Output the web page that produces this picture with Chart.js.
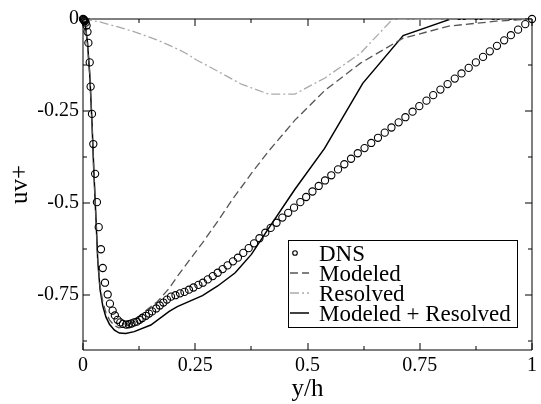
<!DOCTYPE html>
<html>
<head>
<meta charset="utf-8">
<script src="https://cdn.jsdelivr.net/npm/chart.js@4.4.1/dist/chart.umd.min.js"></script>
<style>
  html, body { margin: 0; padding: 0; background: #fff; }
  #wrap { width: 541px; height: 404px; }
</style>
</head>
<body>
<div id="wrap"><canvas id="chart" width="541" height="404"></canvas></div>
<script>
// DNS reference profile (circles)
const dnsX = [0.000, 0.001, 0.002, 0.003, 0.004, 0.006, 0.008, 0.010, 0.012, 0.015,
  0.017, 0.020, 0.023, 0.027, 0.031, 0.035, 0.040, 0.044, 0.049, 0.055,
  0.060, 0.066, 0.071, 0.077, 0.083, 0.089, 0.096, 0.102, 0.108, 0.114,
  0.120, 0.126, 0.132, 0.140, 0.147, 0.154, 0.163, 0.171, 0.179, 0.187,
  0.196, 0.206, 0.216, 0.226, 0.236, 0.246, 0.257, 0.267, 0.278, 0.289,
  0.300, 0.311, 0.322, 0.334, 0.345, 0.357, 0.369, 0.381, 0.393, 0.406,
  0.418, 0.431, 0.444, 0.457, 0.470, 0.484, 0.497, 0.511, 0.525, 0.539,
  0.553, 0.568, 0.582, 0.597, 0.612, 0.627, 0.642, 0.657, 0.672, 0.687,
  0.703, 0.718, 0.734, 0.749, 0.765, 0.780, 0.796, 0.812, 0.828, 0.843,
  0.859, 0.875, 0.891, 0.906, 0.922, 0.938, 0.953, 0.969, 0.985, 1.000]
const dnsUV = [0.000, -0.001, -0.002, -0.004, -0.006, -0.010, -0.018, -0.035, -0.065, -0.118,
  -0.184, -0.258, -0.340, -0.421, -0.498, -0.566, -0.626, -0.677, -0.717, -0.749,
  -0.774, -0.793, -0.806, -0.818, -0.825, -0.829, -0.831, -0.830, -0.828, -0.825,
  -0.823, -0.818, -0.813, -0.807, -0.801, -0.795, -0.787, -0.779, -0.771, -0.763,
  -0.755, -0.751, -0.746, -0.742, -0.736, -0.730, -0.723, -0.717, -0.708, -0.699,
  -0.690, -0.680, -0.670, -0.659, -0.649, -0.636, -0.623, -0.610, -0.596, -0.581,
  -0.568, -0.554, -0.540, -0.527, -0.513, -0.498, -0.484, -0.469, -0.454, -0.439,
  -0.425, -0.409, -0.395, -0.380, -0.365, -0.351, -0.337, -0.323, -0.309, -0.295,
  -0.281, -0.267, -0.252, -0.237, -0.222, -0.207, -0.192, -0.177, -0.162, -0.148,
  -0.133, -0.118, -0.103, -0.088, -0.073, -0.058, -0.044, -0.029, -0.014, 0.000]

// LES: modeled (SGS) part
const modeledX = [0, 0.005, 0.010, 0.015, 0.020, 0.024, 0.029, 0.033, 0.038, 0.044, 0.051,
  0.059, 0.070, 0.080, 0.095, 0.114, 0.133, 0.166, 0.192, 0.210, 0.243, 0.266, 0.300,
  0.332, 0.375, 0.413, 0.472, 0.538, 0.618, 0.713, 0.817, 0.920, 1.000]
const modeledUV = [0, -0.015, -0.065, -0.150, -0.280, -0.410, -0.545, -0.655, -0.725, -0.768, -0.798,
  -0.818, -0.834, -0.840, -0.836, -0.822, -0.800, -0.768, -0.732, -0.700, -0.646, -0.609, -0.550,
  -0.492, -0.420, -0.360, -0.275, -0.195, -0.120, -0.052, -0.019, -0.006, 0]

// LES: resolved part
const resolvedX = [0, 0.037, 0.071, 0.110, 0.163, 0.199, 0.229, 0.251, 0.300, 0.354,
  0.413, 0.472, 0.538, 0.618, 0.690, 0.817, 0.920, 1.000]
const resolvedUV = [0, -0.008, -0.019, -0.033, -0.056, -0.075, -0.093, -0.110, -0.142, -0.178,
  -0.204, -0.204, -0.161, -0.093, 0, 0, 0, 0]

// LES: total
const totalX = [0, 0.005, 0.010, 0.015, 0.020, 0.024, 0.029, 0.033, 0.038, 0.044, 0.051,
  0.059, 0.070, 0.081, 0.095, 0.114, 0.151, 0.192, 0.210, 0.266, 0.300, 0.339, 0.375,
  0.413, 0.472, 0.538, 0.623, 0.713, 0.817, 0.920, 1.000]
const totalUV = [0, -0.015, -0.065, -0.150, -0.280, -0.410, -0.546, -0.660, -0.735, -0.780, -0.810,
  -0.830, -0.846, -0.854, -0.855, -0.850, -0.832, -0.795, -0.782, -0.752, -0.726, -0.690, -0.640,
  -0.570, -0.463, -0.352, -0.175, -0.045, -0.001, 0, 0]

const xTicks = [0, 0.25, 0.5, 0.75, 1]
const xTickLabels = ['0', '0.25', '0.5', '0.75', '1']
const xMinorTicks = [0.125, 0.375, 0.625, 0.875]
const yTicks = [0, -0.25, -0.5, -0.75]
const yTickLabels = ['0', '-0.25', '-0.5', '-0.75']
const yMinorTicks = [-0.125, -0.375, -0.625, -0.875]

const seriesNames = ['DNS', 'Modeled', 'Resolved', 'Modeled + Resolved']

const pts = (xs, ys) => xs.map((x, i) => ({ x: x, y: ys[i] }))

const SERIF = "'Liberation Serif', 'Times New Roman', serif"
Chart.defaults.font.family = SERIF
Chart.defaults.color = '#000'

// frame and inward ticks on all four sides
const frameTicks = {
  id: 'frameTicks',
  beforeDatasetsDraw(chart) {
    const { ctx, chartArea: a, scales: { x, y } } = chart
    ctx.save()
    ctx.strokeStyle = '#000'
    ctx.lineWidth = 1
    ctx.beginPath()
    ctx.rect(a.left, a.top, a.right - a.left, a.bottom - a.top)
    const xt = (vals, len) => {
      for (const v of vals) {
        const px = Math.round(x.getPixelForValue(v))
        ctx.moveTo(px, a.bottom); ctx.lineTo(px, a.bottom - len)
        ctx.moveTo(px, a.top); ctx.lineTo(px, a.top + len)
      }
    }
    const yt = (vals, len) => {
      for (const v of vals) {
        const py = Math.round(y.getPixelForValue(v))
        ctx.moveTo(a.left, py); ctx.lineTo(a.left + len, py)
        ctx.moveTo(a.right, py); ctx.lineTo(a.right - len, py)
      }
    }
    xt(xTicks, 7); xt(xMinorTicks, 4)
    yt(yTicks, 7); yt(yMinorTicks, 4)
    ctx.stroke()
    ctx.restore()
  },
  afterDraw(chart) {
    // legend box in the lower right of the plot
    const { ctx, chartArea: a } = chart
    const left = a.right - 244, top = a.bottom - 110
    ctx.save()
    ctx.fillStyle = '#fff'
    ctx.fillRect(left, top, 229, 87)
    ctx.strokeStyle = '#000'
    ctx.lineWidth = 1
    ctx.strokeRect(left + 0.5, top + 0.5, 229, 87)
    ctx.font = '23px ' + SERIF
    ctx.textBaseline = 'alphabetic'
    ctx.textAlign = 'left'
    chart.data.datasets.forEach((ds, i) => {
      const cy = top + 13 + i * 20
      ctx.strokeStyle = ds.borderColor
      ctx.lineWidth = ds.borderWidth
      ctx.setLineDash(ds.borderDash || [])
      ctx.beginPath()
      if (i === 0) {
        ctx.arc(left + 7, cy, 2.3, 0, Math.PI * 2)
      } else {
        ctx.moveTo(left + 2, cy); ctx.lineTo(left + 21, cy)
      }
      ctx.stroke()
      ctx.setLineDash([])
      ctx.fillStyle = '#000'
      ctx.fillText(ds.label, left + 31, cy + 8)
    })
    ctx.restore()
  }
}

new Chart(document.getElementById('chart'), {
  type: 'scatter',
  data: {
    datasets: [
      {
        label: seriesNames[0],
        data: pts(dnsX, dnsUV),
        showLine: false,
        pointStyle: 'circle',
        pointRadius: 3.6,
        borderColor: '#000',
        backgroundColor: 'rgba(0,0,0,0)',
        borderWidth: 1.1,
        clip: false,
      },
      {
        label: seriesNames[1],
        data: pts(modeledX, modeledUV),
        showLine: true,
        pointRadius: 0,
        borderColor: '#555',
        borderWidth: 1.3,
        borderDash: [8, 4],
      },
      {
        label: seriesNames[2],
        data: pts(resolvedX, resolvedUV),
        showLine: true,
        pointRadius: 0,
        borderColor: '#aaa',
        borderWidth: 1.3,
        borderDash: [9, 3, 2, 3],
      },
      {
        label: seriesNames[3],
        data: pts(totalX, totalUV),
        showLine: true,
        pointRadius: 0,
        borderColor: '#000',
        borderWidth: 1.5,
      },
    ],
  },
  options: {
    responsive: false,
    animation: false,
    devicePixelRatio: 1,
    layout: { padding: { top: 19, right: 5, left: 0, bottom: 0 } },
    plugins: {
      legend: { display: false },
      tooltip: { enabled: false },
    },
    scales: {
      x: {
        type: 'linear',
        min: 0,
        max: 1,
        afterBuildTicks: (s) => { s.ticks = xTicks.map((v) => ({ value: v })) },
        afterFit: (s) => { s.height = 54 },
        grid: { display: false, drawTicks: false },
        border: { display: false },
        ticks: {
          padding: 4,
          font: { size: 20 },
          maxRotation: 0,
          callback: (v) => xTickLabels[xTicks.indexOf(v)],
        },
        title: { display: true, text: 'y/h', font: { size: 25 }, padding: 0 },
      },
      y: {
        type: 'linear',
        min: -0.9,
        max: 0,
        afterBuildTicks: (s) => { s.ticks = yTicks.map((v) => ({ value: v })) },
        afterFit: (s) => { s.width = 83 },
        grid: { display: false, drawTicks: false },
        border: { display: false },
        ticks: {
          padding: 4,
          font: { size: 20 },
          callback: (v) => yTickLabels[yTicks.indexOf(v)],
        },
        title: { display: true, text: 'uv+', font: { size: 25 }, padding: { top: 5, bottom: 0 } },
      },
    },
  },
  plugins: [frameTicks],
})
</script>
</body>
</html>
